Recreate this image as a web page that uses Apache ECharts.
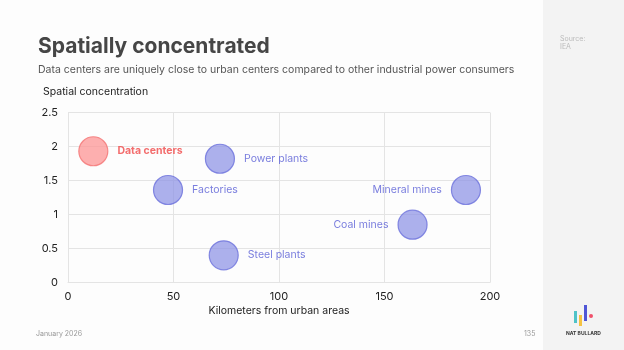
<!DOCTYPE html>
<html><head><meta charset="utf-8">
<script src="https://cdn.jsdelivr.net/npm/echarts@6/dist/echarts.min.js"></script>
<style>html,body{margin:0;padding:0;background:#fdfdfd}#c{width:624px;height:350px}</style>
</head><body><div id="c"></div>
<script>
const names = ['Data centers','Power plants','Factories','Steel plants','Mineral mines','Coal mines'];
const kmFromUrban = [12, 72, 47.4, 73.8, 188.6, 163.3];
const concentration = [1.93, 1.82, 1.36, 0.40, 1.36, 0.85];
const labelSide = ['right','right','right','right','left','left'];
const xTicks = [0, 50, 100, 150, 200];
const yTicks = [0, 0.5, 1, 1.5, 2, 2.5];

const font = 'Inter, "Noto Sans", sans-serif';
const highlight = names.map((n,i)=>i===0);
function items(sel){
  const out=[];
  names.forEach((n,i)=>{ if(highlight[i]===sel) out.push({name:n,value:[kmFromUrban[i],concentration[i]],label:{position:labelSide[i]}}); });
  return out;
}
const chart = echarts.init(document.getElementById('c'), null, {renderer:'canvas'});
chart.setOption({
  backgroundColor:'#fdfdfd',
  animation:false,
  textStyle:{fontFamily:font},
  graphic:[
    {type:'rect',shape:{x:543,y:0,width:81,height:350},style:{fill:'#f3f3f3'},z:-10},
    {type:'text',left:38,top:36,style:{text:'Spatially concentrated',font:'bold 21px '+font,fill:'#464646'}},
    {type:'text',left:38,top:64,style:{text:'Data centers are uniquely close to urban centers compared to other industrial power consumers',font:'10.5px '+font,fill:'#555'}},
    {type:'text',left:43,top:86,style:{text:'Spatial concentration',font:'10.5px '+font,fill:'#222'}},
    {type:'text',left:36,top:330,style:{text:'January 2026',font:'7px '+font,fill:'#999'}},
    {type:'text',left:524,top:330,style:{text:'135',font:'7px '+font,fill:'#999'}},
    {type:'text',left:560,top:35,style:{text:'Source:\nIEA',font:'7px '+font,fill:'#bbb',lineHeight:8}},
    {type:'rect',shape:{x:574,y:311,width:3,height:12},style:{fill:'#4fc3c8'}},
    {type:'rect',shape:{x:579,y:315,width:3,height:11},style:{fill:'#f5c242'}},
    {type:'rect',shape:{x:584,y:305,width:3,height:16},style:{fill:'#5056d6'}},
    {type:'circle',shape:{cx:591,cy:316,r:2},style:{fill:'#f0506a'}},
    {type:'text',left:566,top:331,style:{text:'NAT BULLARD',font:'bold 5px '+font,fill:'#333'}}
  ],
  grid:{left:68,right:134,top:112.5,bottom:67.5,containLabel:false},
  xAxis:{type:'value',min:xTicks[0],max:xTicks[xTicks.length-1],interval:50,
    name:'Kilometers from urban areas',nameLocation:'middle',nameGap:23,
    nameTextStyle:{color:'#222',fontSize:10.5,fontFamily:font},
    axisLine:{show:true,lineStyle:{color:'#e4e4e4'}},axisTick:{show:false},
    axisLabel:{color:'#222',fontSize:11,margin:9,fontFamily:font},
    splitLine:{show:true,lineStyle:{color:'#e4e4e4'}}},
  yAxis:{type:'value',min:yTicks[0],max:yTicks[yTicks.length-1],interval:0.5,
    axisLine:{show:true,lineStyle:{color:'#e4e4e4'}},axisTick:{show:false},
    axisLabel:{color:'#222',fontSize:11,margin:10,fontFamily:font},
    splitLine:{show:true,lineStyle:{color:'#e4e4e4'}}},
  series:[
    {type:'scatter',symbolSize:29,data:items(false),
      itemStyle:{color:'rgba(140,146,228,0.9)',borderColor:'#6c71dc',borderWidth:1.2},
      label:{show:true,formatter:'{b}',distance:9,color:'#575cd6',fontSize:10.5,fontFamily:font}},
    {type:'scatter',symbolSize:29,data:items(true),
      itemStyle:{color:'rgba(252,150,150,0.95)',borderColor:'#f47272',borderWidth:1.2},
      label:{show:true,formatter:'{b}',distance:9,color:'#f04848',fontWeight:'bold',fontSize:10.5,fontFamily:font}}
  ]
});
</script></body></html>
